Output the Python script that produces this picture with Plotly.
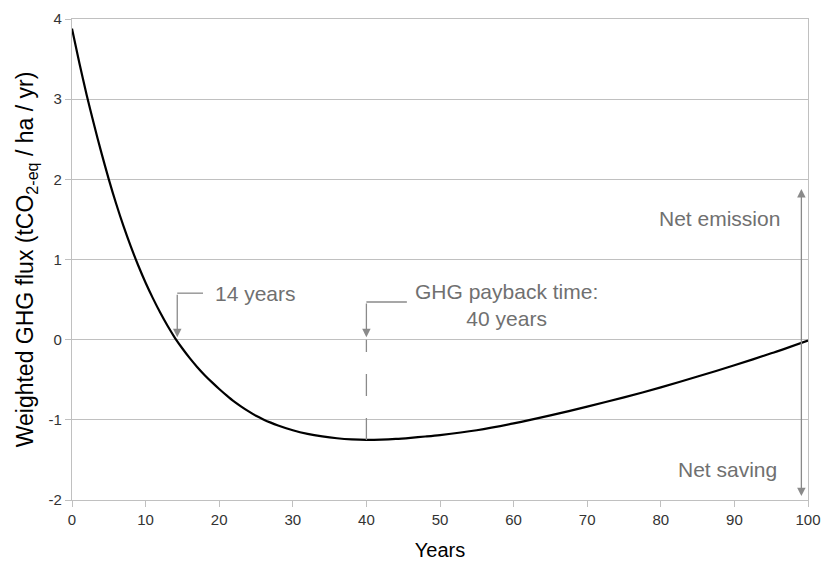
import plotly.graph_objects as go

# Weighted GHG flux over a 100-year horizon
years = [0, 1, 2, 3, 4, 5, 6, 7, 8, 9, 10, 11, 12, 13, 14, 15, 16, 17, 18, 19,
         20, 21, 22, 23, 24, 25, 26, 27, 28, 30, 32, 34, 36, 38, 40, 42, 44,
         46, 48, 50, 55, 60, 65, 70, 75, 80, 85, 90, 95, 100]
flux = [3.88, 3.45, 3.05, 2.68, 2.33, 2.00, 1.695, 1.415, 1.16, 0.925, 0.71,
        0.515, 0.335, 0.17, 0.02, -0.11, -0.23, -0.34, -0.44, -0.53, -0.615,
        -0.695, -0.77, -0.835, -0.895, -0.95, -0.995, -1.035, -1.07, -1.13,
        -1.175, -1.207, -1.23, -1.244, -1.25, -1.247, -1.238, -1.224, -1.208,
        -1.19, -1.13, -1.045, -0.945, -0.835, -0.72, -0.595, -0.46, -0.32,
        -0.17, -0.01]

x_ticks = [0, 10, 20, 30, 40, 50, 60, 70, 80, 90, 100]
y_ticks = [-2, -1, 0, 1, 2, 3, 4]
y_tick_labels = ["-2", "-1", "0", "1", "2", "3", "4"]

crossing_year = 14.3
payback_year = 40
min_flux = -1.25

grid = "#c0c0c0"
note_grey = "#707070"
arrow_grey = "#8a8a8a"
font = "Liberation Sans, Arial, sans-serif"

fig = go.Figure()
fig.add_trace(go.Scatter(x=years, y=flux, mode="lines",
                         line=dict(color="black", width=2.2, shape="spline", smoothing=0.8),
                         hoverinfo="skip", showlegend=False))

shapes = [
    # elbow leading to the zero-crossing arrow
    dict(type="line", xref="x", yref="y", x0=crossing_year, x1=17.8, y0=0.58, y1=0.58,
         line=dict(color=arrow_grey, width=1.3)),
    # elbow leading to the payback arrow
    dict(type="line", xref="x", yref="y", x0=payback_year, x1=45.5, y0=0.47, y1=0.47,
         line=dict(color=arrow_grey, width=1.3)),
    # dashed drop from zero to the curve minimum
    dict(type="line", xref="x", yref="y", x0=payback_year, x1=payback_year,
         y0=min_flux, y1=0, line=dict(color=arrow_grey, width=1.3, dash="22px,22px")),
]

annotations = [
    dict(x=crossing_year, y=0.03, ax=crossing_year, ay=0.58, xref="x", yref="y",
         axref="x", ayref="y", showarrow=True, arrowhead=2, arrowsize=1.3,
         arrowwidth=1.3, arrowcolor=arrow_grey, text=""),
    dict(x=payback_year, y=0.03, ax=payback_year, ay=0.47, xref="x", yref="y",
         axref="x", ayref="y", showarrow=True, arrowhead=2, arrowsize=1.3,
         arrowwidth=1.3, arrowcolor=arrow_grey, text=""),
    dict(x=99.1, y=1.88, ax=99.1, ay=-1.97, xref="x", yref="y",
         axref="x", ayref="y", showarrow=True, arrowhead=2, startarrowhead=2,
         arrowside="end+start", arrowsize=1.3, startarrowsize=1.3,
         arrowwidth=1.3, arrowcolor=arrow_grey, text=""),
    dict(x=19.2, y=0.57, xref="x", yref="y", text="14 years", showarrow=False,
         xanchor="left", yanchor="middle", font=dict(family=font, size=21, color=note_grey)),
    dict(x=59.0, y=0.43, xref="x", yref="y", text="GHG payback time:<br>40 years",
         showarrow=False, xanchor="center", yanchor="middle", align="center",
         font=dict(family=font, size=21, color=note_grey)),
    dict(x=88.0, y=1.51, xref="x", yref="y", text="Net emission", showarrow=False,
         xanchor="center", yanchor="middle", font=dict(family=font, size=21, color=note_grey)),
    dict(x=89.0, y=-1.62, xref="x", yref="y", text="Net saving", showarrow=False,
         xanchor="center", yanchor="middle", font=dict(family=font, size=21, color=note_grey)),
]

fig.update_layout(
    width=823, height=568,
    margin=dict(l=72, r=15, t=19, b=68),
    paper_bgcolor="white", plot_bgcolor="white",
    font=dict(family=font, color="#333333"),
    shapes=shapes, annotations=annotations,
    xaxis=dict(range=[0, 100], tickvals=x_ticks, showgrid=False, zeroline=False,
               automargin=False,
               showline=True, linecolor=grid, linewidth=1.3, mirror=True,
               ticks="outside", ticklen=6, tickcolor=grid,
               tickfont=dict(family=font, size=15, color="#333333"),
               title=dict(text="Years", font=dict(family=font, size=20, color="black"))),
    yaxis=dict(range=[-2, 4], tickvals=y_ticks, ticktext=y_tick_labels,
               showgrid=True, gridcolor=grid,
               gridwidth=1.2, zeroline=False, automargin=False,
               showline=True, linecolor=grid,
               linewidth=1.3, mirror=True, ticks="outside", ticklen=6, tickcolor=grid,
               tickfont=dict(family=font, size=15, color="#333333"),
               title=dict(text="Weighted GHG flux (tCO<sub>2-eq</sub> / ha / yr)",
                          font=dict(family=font, size=23, color="black"),
                          standoff=8)),
)

fig.write_html("out.html")
